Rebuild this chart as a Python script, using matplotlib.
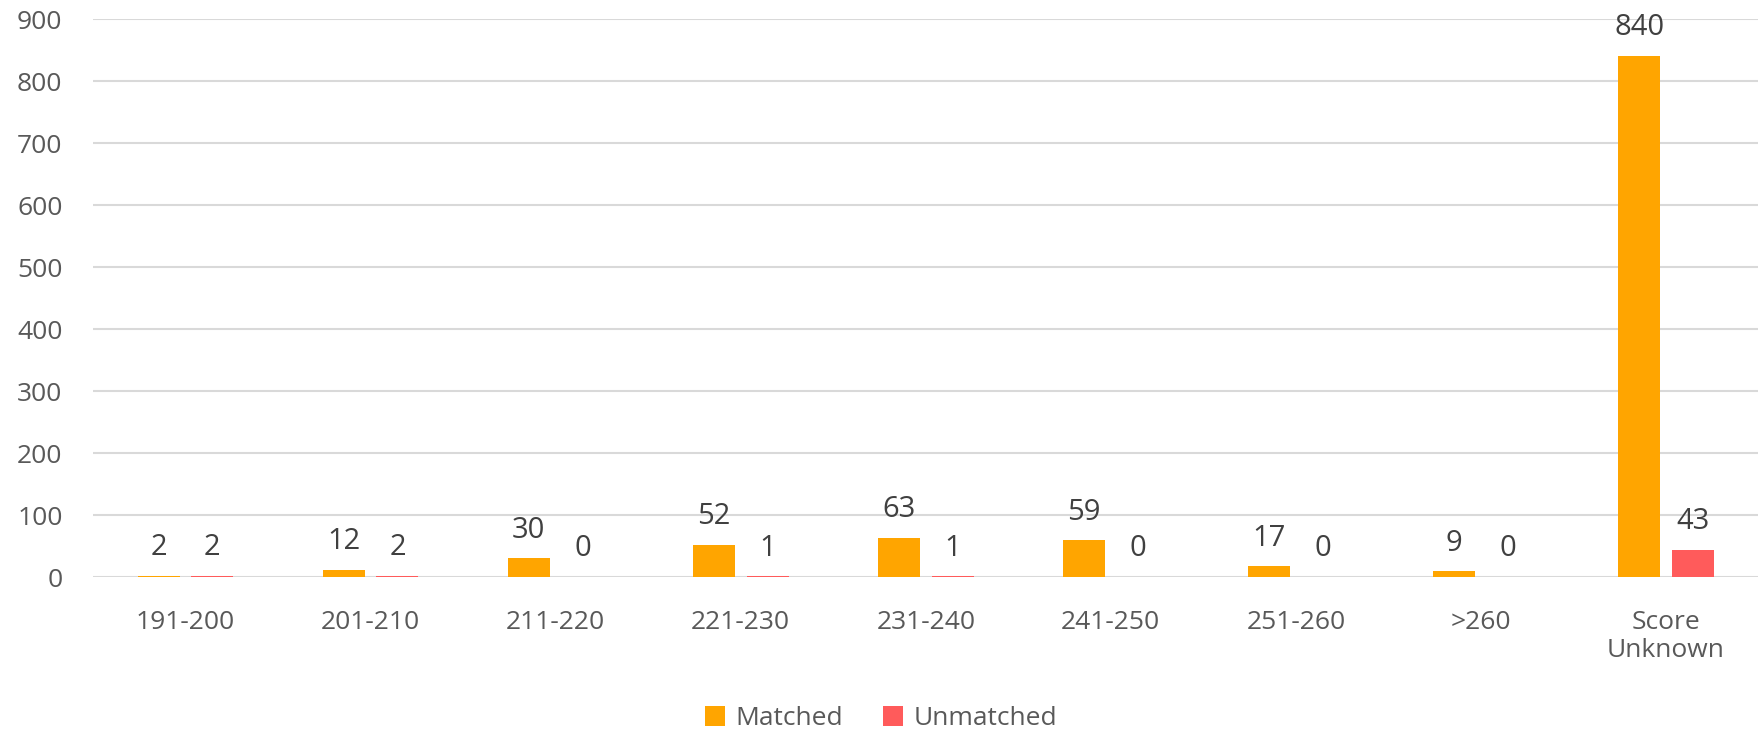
import matplotlib.pyplot as plt
import numpy as np

plt.rcParams['font.family'] = ['Open Sans', 'DejaVu Sans']

categories = ['191-200', '201-210', '211-220', '221-230', '231-240',
              '241-250', '251-260', '>260', 'Score\nUnknown']
matched = [2, 12, 30, 52, 63, 59, 17, 9, 840]
unmatched = [2, 2, 0, 1, 1, 0, 0, 0, 43]

orange = '#FFA500'
red = '#FF5B5B'
label_col = '#404040'
tick_col = '#595959'

fig = plt.figure(figsize=(17.62, 7.33), dpi=100)
ax = fig.add_axes([0.0528, 0.2128, 0.9452, 0.7612])

x = np.arange(len(categories))
w = 0.227
off = 0.145
b1 = ax.bar(x - off, matched, w, color=orange, label='Matched', zorder=3)
b2 = ax.bar(x + off, unmatched, w, color=red, label='Unmatched', zorder=3)

for bars, vals in [(b1, matched), (b2, unmatched)]:
    for b, v in zip(bars, vals):
        ax.annotate(str(v), (b.get_x() + b.get_width() / 2, v),
                    xytext=(0, 10), textcoords='offset points',
                    ha='center', va='bottom', fontsize=21, color=label_col)

ax.set_xlim(-0.5, len(categories) - 0.5)
ax.set_ylim(0, 900)
ax.set_yticks(range(0, 901, 100))
ax.set_xticks(x)
ax.set_xticklabels(categories, linespacing=1.15)
ax.yaxis.grid(True, color='#D9D9D9', lw=1.5, zorder=0)
ax.set_axisbelow(True)
for s in ax.spines.values():
    s.set_visible(False)
ax.tick_params(axis='y', length=0, pad=22, labelsize=19, labelcolor=tick_col)
ax.tick_params(axis='x', length=0, pad=24, labelsize=19, labelcolor=tick_col)

fig.legend(loc='lower center', bbox_to_anchor=(0.5, -0.03), ncol=2,
           frameon=False, fontsize=19, handlelength=0.75, handleheight=0.75,
           columnspacing=1.5, handletextpad=0.4, labelcolor=tick_col)

fig.savefig('out.png', dpi=100)
